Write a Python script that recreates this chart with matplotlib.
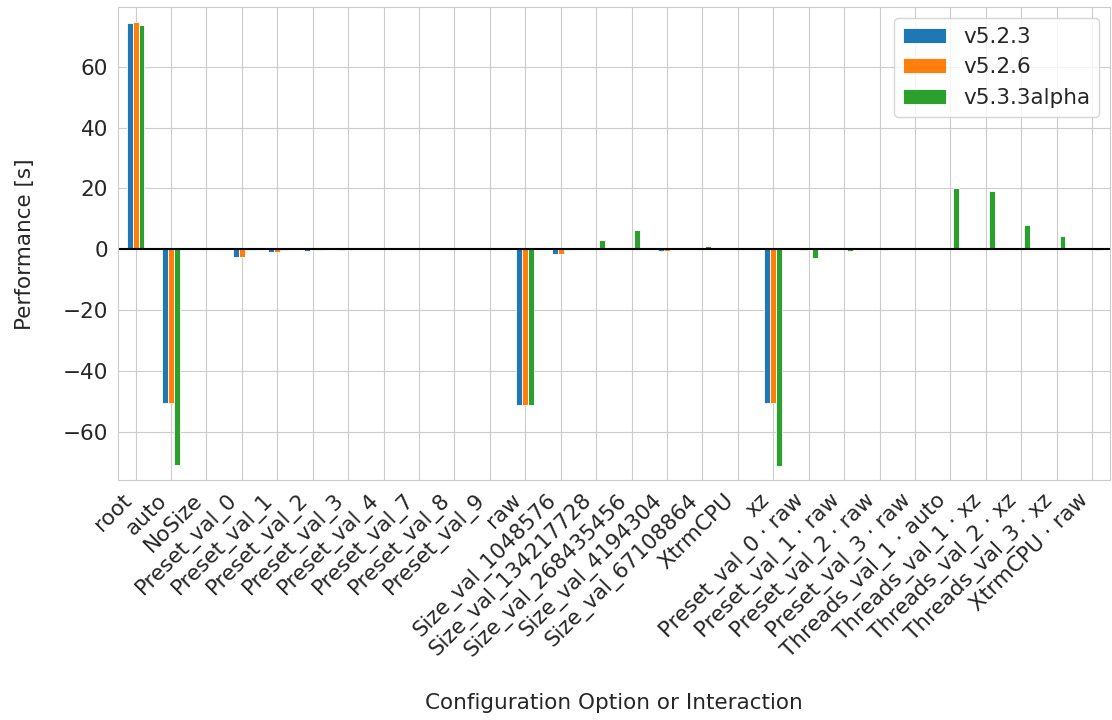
import numpy as np
import seaborn as sns
from matplotlib import pyplot as plt

categories = [
    "root", "auto", "NoSize", "Preset_val_0", "Preset_val_1", "Preset_val_2",
    "Preset_val_3", "Preset_val_4", "Preset_val_7", "Preset_val_8", "Preset_val_9",
    "raw", "Size_val_1048576", "Size_val_134217728", "Size_val_268435456",
    "Size_val_4194304", "Size_val_67108864", "XtrmCPU", "xz",
    "Preset_val_0 · raw", "Preset_val_1 · raw", "Preset_val_2 · raw",
    "Preset_val_3 · raw", "Threads_val_1 · auto", "Threads_val_1 · xz",
    "Threads_val_2 · xz", "Threads_val_3 · xz", "XtrmCPU · raw",
]

v523 = [74.3, -50.3, 0.1, -2.6, -0.8, -0.4, -0.1, 0.0, 0.0, 0.1, 0.2,
        -51.0, -1.5, 0.0, 0.0, -0.6, 0.0, 0.1, -50.4,
        -0.3, 0.0, 0.0, 0.0, 0.0, 0.0, 0.0, 0.0, 0.0]
v526 = [74.5, -50.4, 0.0, -2.6, -0.8, -0.3, -0.1, 0.0, 0.0, 0.1, 0.1,
        -51.2, -1.5, 0.0, 0.0, -0.4, 0.0, 0.0, -50.6,
        -0.3, 0.0, 0.0, 0.0, 0.0, 0.0, 0.0, 0.0, 0.0]
v533 = [73.7, -70.8, 0.4, -0.3, -0.2, -0.1, 0.0, 0.0, 0.0, 0.0, 0.1,
        -51.0, -0.3, 3.0, 6.4, 0.0, 1.1, 0.2, -71.1,
        -2.7, -0.5, -0.3, 0.0, 20.2, 19.2, 8.0, 4.3, -0.3]

series = {"v5.2.3": v523, "v5.2.6": v526, "v5.3.3alpha": v533}

sns.set_style("whitegrid")
plt.rcParams['font.family'] = ['DejaVu Sans']
fs = 15.5

fig, ax = plt.subplots(figsize=(11.12, 7.2), dpi=100)
x = np.arange(len(categories))
w = 0.5 / 3
colors = ["#1f77b4", "#ff7f0e", "#2ca02c"]
for i, (name, vals) in enumerate(series.items()):
    ax.bar(x + (i - 1) * w, vals, width=w, color=colors[i], label=name,
           edgecolor="white", linewidth=0.6)

ax.axhline(0, color="black", linewidth=1.5)
ax.set_xticks(x)
ax.set_xticklabels(categories, rotation=45, ha="right", fontsize=fs)
ax.tick_params(axis="y", labelsize=fs)
ax.set_xlim(-0.5, len(categories) - 0.5)
ax.set_ylim(-75.8, 79.5)
ax.set_ylabel("Performance [s]", fontsize=fs, labelpad=20)
ax.set_xlabel("Configuration Option or Interaction", fontsize=fs, labelpad=22)
ax.legend(loc="upper right", fontsize=fs)

fig.subplots_adjust(left=0.106, right=0.998, top=0.99, bottom=0.333)
fig.savefig("out.png", dpi=100)
